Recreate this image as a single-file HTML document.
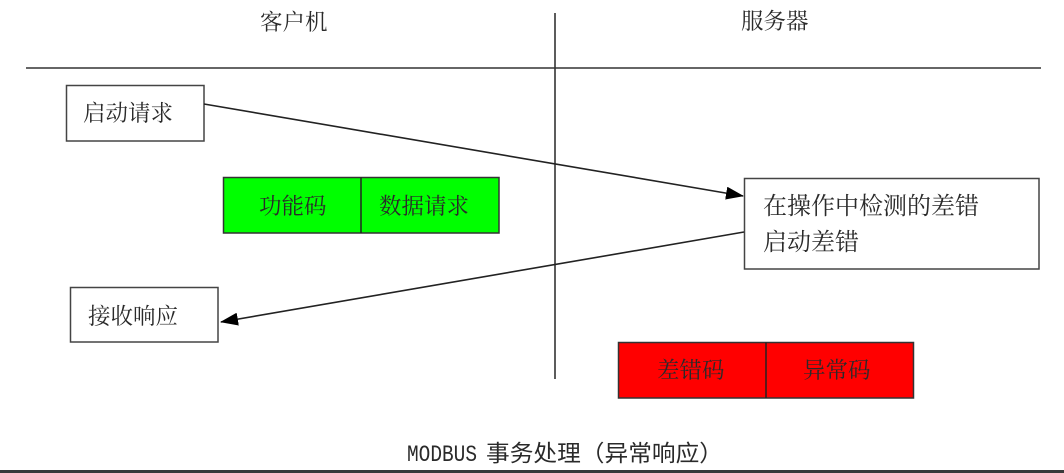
<!DOCTYPE html>
<html><head><meta charset="utf-8"><style>
html,body{margin:0;padding:0;background:#fff;}
svg{display:block;}
text{font-family:"Liberation Serif","Noto Serif CJK SC",serif;fill:#2a2a2a;}
</style></head><body>
<svg width="1064" height="473" viewBox="0 0 1064 473" xmlns="http://www.w3.org/2000/svg">
<defs>
<marker id="ah" markerWidth="18" markerHeight="13" refX="17" refY="6.5" orient="auto" markerUnits="userSpaceOnUse">
<path d="M0,0 L18,6.5 L0,13 Z" fill="#000"/>
</marker>
</defs>
<rect x="0" y="0" width="1064" height="473" fill="#fff"/>
<!-- axes -->
<line x1="26" y1="68" x2="1041" y2="68" stroke="#333" stroke-width="1.6"/>
<line x1="555" y1="13" x2="555" y2="379" stroke="#333" stroke-width="1.6"/>
<text x="260" y="30" font-size="22.5">客户机</text>
<text x="741" y="29" font-size="22.5">服务器</text>

<!-- client request box -->
<rect x="66.5" y="85.5" width="137.5" height="55.5" fill="#fff" stroke="#444" stroke-width="1.5"/>
<text x="83" y="121" font-size="22.5">启动请求</text>

<!-- green PDU -->
<rect x="223.5" y="177.5" width="275.5" height="55.5" fill="#00ff00" stroke="#333" stroke-width="1.5"/>
<line x1="361" y1="177.5" x2="361" y2="233" stroke="#222" stroke-width="1.5"/>
<text x="259" y="214" font-size="22.5">功能码</text>
<text x="379" y="214" font-size="22.5">数据请求</text>

<!-- server box -->
<rect x="744.5" y="178.5" width="294.5" height="90.5" fill="#fff" stroke="#444" stroke-width="1.5"/>
<text x="763" y="214" font-size="24">在操作中检测的差错</text>
<text x="763" y="250" font-size="24">启动差错</text>

<!-- response box -->
<rect x="70.5" y="287.5" width="147.5" height="54.5" fill="#fff" stroke="#444" stroke-width="1.5"/>
<text x="88" y="324" font-size="22.5">接收响应</text>

<!-- red PDU -->
<rect x="618.5" y="342.5" width="295" height="55.5" fill="#ff0000" stroke="#333" stroke-width="1.5"/>
<line x1="766" y1="342.5" x2="766" y2="398" stroke="#222" stroke-width="1.5"/>
<text x="657" y="378" font-size="22.5">差错码</text>
<text x="803" y="378" font-size="22.5">异常码</text>

<!-- arrows -->
<line x1="204" y1="104" x2="743" y2="196" stroke="#222" stroke-width="1.6" marker-end="url(#ah)"/>
<line x1="744" y1="232" x2="221" y2="322" stroke="#222" stroke-width="1.6" marker-end="url(#ah)"/>

<!-- caption -->
<text x="407" y="461" font-size="23" style="font-family:'Liberation Mono',monospace" textLength="70" lengthAdjust="spacingAndGlyphs">MODBUS</text>
<text x="486" y="461" font-size="23" style="font-family:'Liberation Sans','Noto Sans CJK SC',sans-serif" textLength="237" lengthAdjust="spacingAndGlyphs">事务处理（异常响应）</text>

<!-- bottom bar -->
<rect x="0" y="470" width="1064" height="3" fill="#3a3a3a"/>
</svg>
</body></html>
